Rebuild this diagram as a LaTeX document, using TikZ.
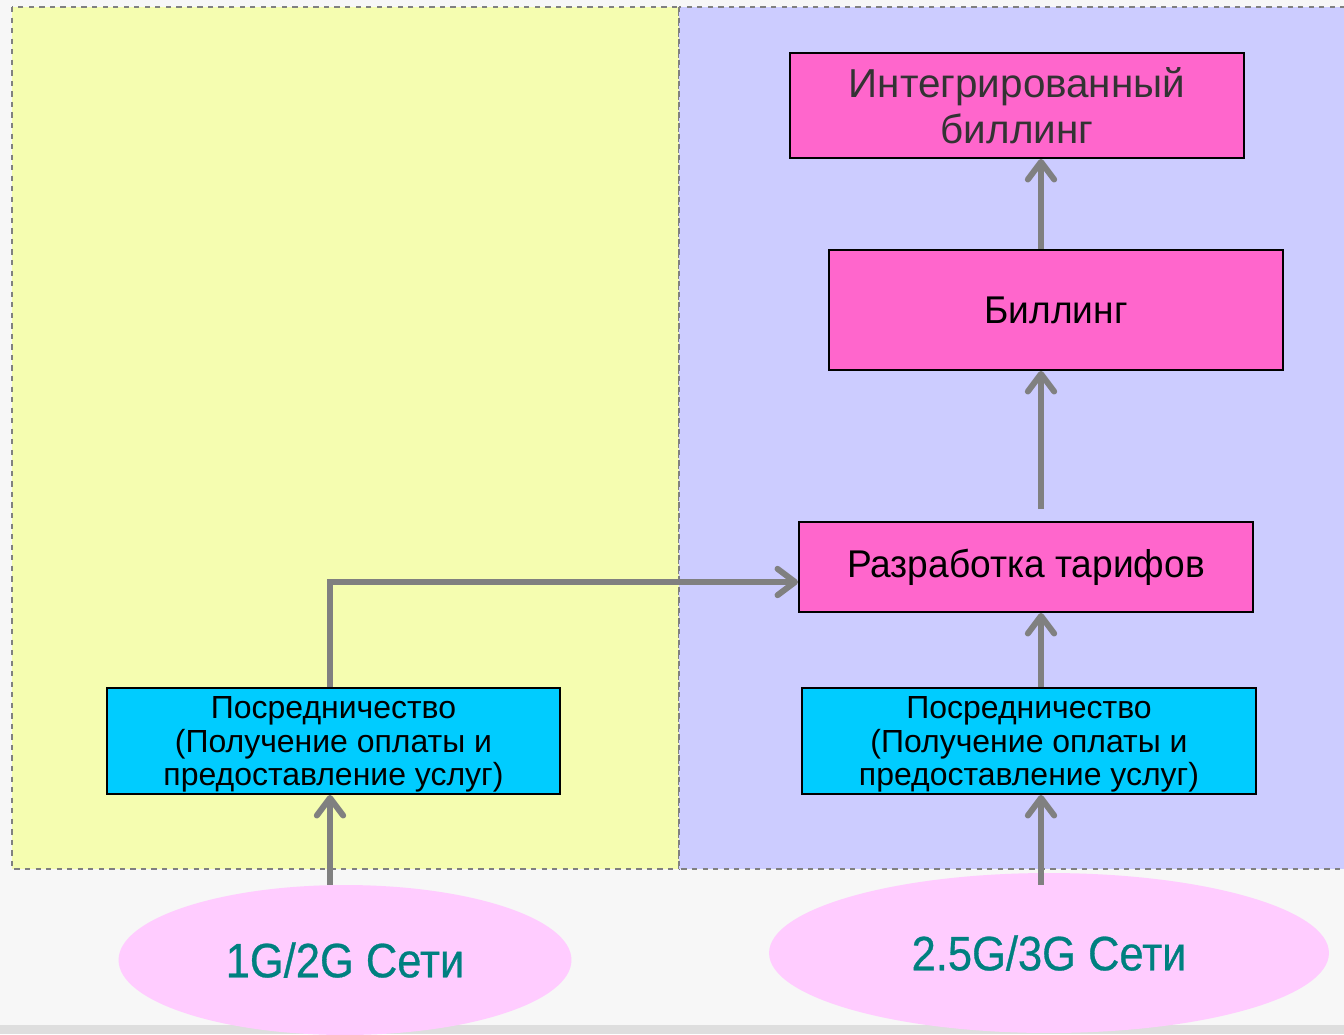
\documentclass[tikz,border=0pt]{standalone}
\usepackage{fontspec}
\setmainfont{Liberation Sans}
\newfontfamily\narrowsans[FakeStretch=0.96]{Liberation Sans}
\newfontfamily\netsans[FakeStretch=0.9, FakeBold=0.6]{Liberation Sans}
\usetikzlibrary{arrows.meta, shapes.geometric}

\definecolor{paleyellow}{HTML}{F5FDB0}
\definecolor{paleblue}{HTML}{CCCCFF}
\definecolor{hotpink}{HTML}{FF66CC}
\definecolor{skyblue}{HTML}{00CCFF}
\definecolor{palepink}{HTML}{FFCCFF}
\definecolor{netteal}{HTML}{008080}
\definecolor{arrowgray}{HTML}{808080}

\tikzset{
  pinkbox/.style={rectangle, draw=black, line width=1.1pt, fill=hotpink, inner sep=0pt, align=center, font=\narrowsans\fontsize{22}{26}\selectfont},
  medbox/.style={rectangle, draw=black, line width=1.1pt, fill=skyblue, inner sep=0pt, align=center, text depth=0pt, font=\fontsize{18.2}{19.3}\selectfont},
  netnode/.style={ellipse, fill=palepink, inner sep=0pt, text=netteal, font=\netsans\fontsize{27.5}{30}\selectfont},
  flow/.style={draw=arrowgray, line width=3.4pt, -{Straight Barb[round, length=10pt, width=15pt]}},
  panel/.style={draw=arrowgray, dashed, line width=0.8pt}
}

\begin{document}
\begin{tikzpicture}[x=0.02cm, y=-0.02cm]
                            \useasboundingbox (0, 0) rectangle (1344, 1034);
                            \fill[black!3] (0, 0) rectangle (1344, 1034);
                            \fill[black!13] (0, 1025) rectangle (1344, 1034);

                            \filldraw[panel, fill=paleyellow] (12, 7) rectangle (679, 869);
                            \filldraw[panel, fill=paleblue] (679, 7) rectangle (1352, 869);

                            \node (integ)[pinkbox, text=black!80, font=\fontsize{23}{26.5}\selectfont, minimum width=9.08cm, minimum height=2.10cm] at (1017, 105.5) {Интегрированный\\биллинг};
                            \node (bill)[pinkbox, minimum width=9.08cm, minimum height=2.40cm] at (1056, 310) {Биллинг};
                            \node (tariff)[pinkbox, minimum width=9.08cm, minimum height=1.80cm] at (1026, 567) {Разработка тарифов};

                            \node (lmed)[medbox, minimum width=9.06cm, minimum height=2.12cm] at (333.5, 741) {Посредничество\\(Получение оплаты и\\предоставление услуг)};
                            \node (rmed)[medbox, minimum width=9.08cm, minimum height=2.12cm] at (1029, 741) {Посредничество\\(Получение оплаты и\\предоставление услуг)};

                            \node (lnet)[netnode, minimum width=9.06cm, minimum height=3.0cm] at (345, 960) {1G/2G Сети};
                            \node (rnet)[netnode, minimum width=11.2cm, minimum height=3.2cm] at (1049, 953) {2.5G/3G Сети};

                            \coordinate (lcol) at (330, 0);
                            \coordinate (rcol) at (1041, 0);
                            \coordinate (bend) at (330, 582);

                            \draw [flow] (lnet.north -| lcol) -- (lmed.south -| lcol);
                            \draw [flow] (lmed.north -| lcol) -- (bend) -- (bend -| tariff.west);
                            \draw [flow, shorten <=-6.8pt] (rnet.north -| rcol) -- (rmed.south -| rcol);
                            \draw [flow] (rmed.north -| rcol) -- (tariff.south -| rcol);
                            \draw [flow, shorten <=6.8pt] (tariff.north -| rcol) -- (bill.south -| rcol);
                            \draw [flow] (bill.north -| rcol) -- (integ.south -| rcol);
                        \end{tikzpicture}
\end{document}
